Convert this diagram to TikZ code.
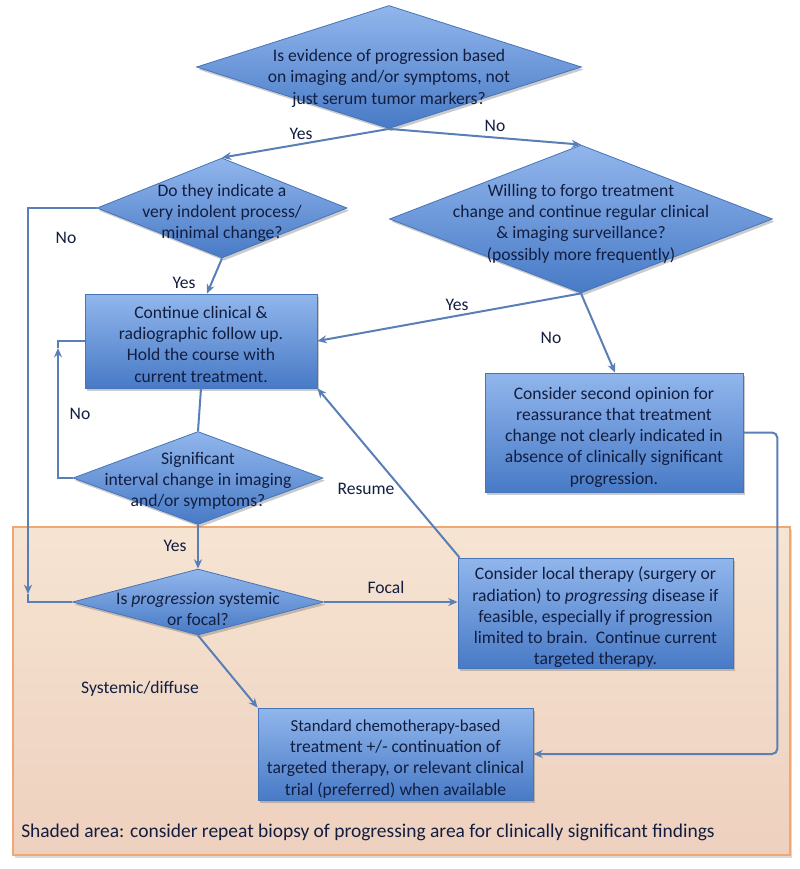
\documentclass[tikz,border=0pt]{standalone}
\usepackage{fontspec}
\setmainfont{Carlito}
\usetikzlibrary{arrows.meta,shapes.geometric,shadows,calc}
\definecolor{boxtop}{RGB}{145,182,236}
\definecolor{boxbot}{RGB}{72,122,198}
\definecolor{boxline}{RGB}{70,116,184}
\definecolor{txt}{RGB}{18,30,64}
\definecolor{arrcol}{RGB}{90,126,182}
\definecolor{peachtop}{RGB}{246,228,210}
\definecolor{peachbot}{RGB}{238,208,190}
\definecolor{peachline}{RGB}{238,168,118}
\newcommand{\ztext}[2][3pt]{\makebox[0pt]{\raisebox{\dimexpr-0.6ex-#1\relax}[0pt][0pt]{\begin{tabular}{@{}c@{}}#2\end{tabular}}}}
\tikzset{
  base/.style={draw=boxline, line width=0.6pt, top color=boxtop, bottom color=boxbot,
    text=txt, inner sep=0pt, font=\fontsize{13.2}{15.9}\selectfont,
    drop shadow={shadow xshift=1.5pt, shadow yshift=-2pt, opacity=0.35, fill=black!60}},
  decision/.style={base, diamond},
  stepbox/.style={base, rectangle},
  conn/.style={draw=arrcol, line width=1.5pt},
  arr/.style={conn, -{Stealth[length=7pt,width=6pt]}},
  lbl/.style={text=txt, font=\fontsize{13.2}{15}\selectfont, inner sep=0pt}
}
\begin{document}
\begin{tikzpicture}[x=0.75pt,y=-0.75pt]
\useasboundingbox (0,0) rectangle (800,869);
% shaded area
\node[draw=peachline, line width=1pt, top color=peachtop, bottom color=peachbot,
  minimum width=582.75pt, minimum height=246pt, inner sep=0pt,
  drop shadow={shadow xshift=1.5pt, shadow yshift=-2pt, opacity=0.3, fill=black!50}]
  (shade) at (401.5,691) {};
\node[lbl, anchor=west, font=\fontsize{14.6}{16}\selectfont] (shadetxt) at (21,832)
  {Shaded area: consider repeat biopsy of progressing area for clinically significant findings};

% decisions
\node[decision, minimum width=288.75pt, minimum height=92.25pt] (D1) at (389,67)
  {\ztext[8pt]{Is evidence of progression based\\on imaging and/or symptoms, not\\just serum tumor markers?}};
\node[decision, minimum width=187.5pt, minimum height=75pt] (D2) at (222,208)
  {\ztext{Do they indicate a\\very indolent process/\\minimal change?}};
\node[decision, minimum width=287.25pt, minimum height=111pt] (D3) at (581,219)
  {\ztext{Willing to forgo treatment\\change and continue regular clinical\\\& imaging surveillance?\\(possibly more frequently)}};
\node[decision, minimum width=187.5pt, minimum height=69.75pt] (D4) at (198,478)
  {\ztext[1.5pt]{Significant\\interval change in imaging\\and/or symptoms?}};
\node[decision, minimum width=188.25pt, minimum height=49.5pt] (D5) at (198,602)
  {\ztext[5.5pt]{Is \textit{progression} systemic\\or focal?}};

% boxes
\node[stepbox, minimum width=174pt, minimum height=70.5pt] (B1) at (201,341)
  {\ztext{Continue clinical \&\\radiographic follow up.\\Hold the course with\\current treatment.}};
\node[stepbox, minimum width=193.5pt, minimum height=89.25pt] (B2) at (614,432.5)
  {\ztext{Consider second opinion for\\reassurance that treatment\\change not clearly indicated in\\absence of clinically significant\\progression.}};
\node[stepbox, minimum width=206.25pt, minimum height=82.5pt] (B3) at (595.5,613)
  {\ztext{Consider local therapy (surgery or\\radiation) to \textit{progressing} disease if\\feasible, especially if progression\\limited to brain.\ \ Continue current\\targeted therapy.}};
\node[stepbox, minimum width=206.25pt, minimum height=69pt] (B4) at (395.5,754)
  {\ztext{\fontsize{12.6}{15.9}\selectfont Standard chemotherapy-based\\treatment +/- continuation of\\targeted therapy, or relevant clinical\\trial (preferred) when available}};

% connectors
\draw[arr] (D1.south) -- (D2.north);
\draw[arr] (D1.south) -- (D3.north);
\draw[arr] (D2.south) -- ($(B1.north)+(6,0)$);
\coordinate (c1) at (28,594);
\draw[arr] (D2.west) -| (c1);
\draw[conn] (c1) |- (D5.west);
\draw[arr] (D3.south) -- (B1.east);
\draw[arr] (D3.south) -- ($(B2.north)+(1,0)$);
\draw[conn] (B1.south) -- (D4.north);
\coordinate (c2) at (58,348);
\draw[arr] (D4.west) -| (c2);
\draw[conn] (c2) |- (B1.west);
\draw[arr] (D4.south) -- (D5.north);
\draw[arr] (D5.east) -- (D5.east -| B3.west);
\draw[arr] (D5.south) -- (B4.north west);
\draw[arr] ($(B3.north west)+(2,0)$) -- (B1.south east);
\draw[arr, rounded corners=4pt] (B2.east) -- ($(B2.east)+(34,0)$) |- (B4.east);

% labels
\node[lbl] (lyes1) at (301,134) {Yes};
\node[lbl] (lno1) at (495,126) {No};
\node[lbl] (lno2) at (66,238) {No};
\node[lbl] (lyes2) at (184,283) {Yes};
\node[lbl] (lyes3) at (457,305) {Yes};
\node[lbl] (lno3) at (551,338) {No};
\node[lbl] (lno4) at (80,414) {No};
\node[lbl] (lres) at (366,489) {Resume};
\node[lbl] (lyes4) at (175,546) {Yes};
\node[lbl] (lfocal) at (386,587) {Focal};
\node[lbl] (lsys) at (140,689) {Systemic/diffuse};
\end{tikzpicture}
\end{document}
